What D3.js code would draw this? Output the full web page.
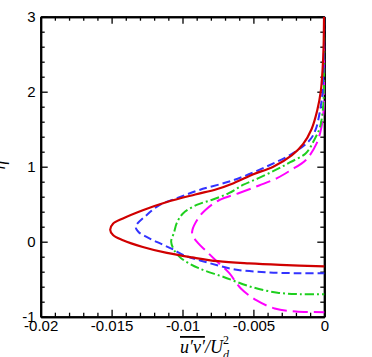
<!DOCTYPE html>
<html>
<head>
<meta charset="utf-8">
<script src="https://cdn.jsdelivr.net/npm/d3@7"></script>
<style>
html,body{margin:0;padding:0;background:#fff;}
svg{display:block;}
</style>
</head>
<body>
<svg id="chart" width="372" height="357"></svg>
<script>
// ---- data (eta, u'v'/U^2) ----
const redEta = [3.0, 2.6, 2.3, 2.0, 1.75, 1.5, 1.3, 1.15, 1.0, 0.9, 0.78, 0.7, 0.63, 0.53, 0.42, 0.31, 0.24, 0.16, 0.09, 0.02, -0.07, -0.15, -0.21, -0.26, -0.29, -0.31, -0.33];
const redVal = [-0.00002, -0.00005, -0.00012, -0.00025, -0.0005, -0.0009, -0.0015, -0.0023, -0.0036, -0.0050, -0.0064, -0.0076, -0.0091, -0.0111, -0.0128, -0.0142, -0.0149, -0.0151, -0.0149, -0.0142, -0.0128, -0.0111, -0.0093, -0.0075, -0.0053, -0.0031, 0.0];

const blueEta = [3.0, 2.5, 2.0, 1.75, 1.5, 1.36, 1.18, 1.0, 0.82, 0.69, 0.58, 0.49, 0.36, 0.2, 0.13, 0.05, -0.03, -0.1, -0.18, -0.28, -0.37, -0.41, -0.42, -0.42];
const blueVal = [0.0, -0.00003, -0.00012, -0.0003, -0.0006, -0.001, -0.0022, -0.0041, -0.0064, -0.0088, -0.0104, -0.0116, -0.0125, -0.0133, -0.0131, -0.0124, -0.0115, -0.0107, -0.0099, -0.0082, -0.0063, -0.0040, -0.0017, 0.0];

const greenEta = [3.0, 2.4, 2.0, 1.76, 1.53, 1.36, 1.18, 1.06, 0.96, 0.85, 0.76, 0.65, 0.56, 0.49, 0.38, 0.25, 0.12, 0.0, -0.14, -0.22, -0.35, -0.47, -0.6, -0.68, -0.7, -0.7];
const greenVal = [0.0, 0.0, -0.00003, -0.0001, -0.0003, -0.0007, -0.0013, -0.0024, -0.0034, -0.0046, -0.0057, -0.0067, -0.0079, -0.0090, -0.00995, -0.0104, -0.0106, -0.0108, -0.0105, -0.0101, -0.0089, -0.0071, -0.0052, -0.0033, -0.0017, 0.0];

const magEta = [3.0, 2.0, 1.75, 1.53, 1.31, 1.09, 0.95, 0.85, 0.75, 0.65, 0.556, 0.42, 0.31, 0.156, 0.09, -0.02, -0.13, -0.24, -0.42, -0.62, -0.78, -0.89, -0.93, -0.94];
const magVal = [0.0, 0.0, -0.00005, -0.0002, -0.00054, -0.0013, -0.0024, -0.0033, -0.0046, -0.0060, -0.0074, -0.0084, -0.0089, -0.0093, -0.0093, -0.0089, -0.0083, -0.0077, -0.0067, -0.0059, -0.0048, -0.0035, -0.0020, 0.0];

const xMajorTicks = [-0.02, -0.015, -0.01, -0.005, 0];
const xTickLabels = ["-0.02", "-0.015", "-0.01", "-0.005", "0"];
const yMajorTicks = [-1, 0, 1, 2, 3];
const yTickLabels = ["-1", "0", "1", "2", "3"];

// ---- layout ----
const svg = d3.select("#chart");
const L = 40.7, R = 324.3, T = 16.7, B = 316.7;
const x = d3.scaleLinear().domain([-0.02, 0]).range([L, R]);
const y = d3.scaleLinear().domain([-1, 3]).range([B, T]);

const xMinor = d3.range(-0.02, 0.0001, 0.001).filter(v => !xMajorTicks.some(m => Math.abs(m - v) < 1e-9));
const yMinor = d3.range(-1, 3.0001, 0.2).filter(v => !yMajorTicks.some(m => Math.abs(m - v) < 1e-9));

const tickFont = "'Liberation Sans', Arial, Helvetica, sans-serif";
const MAJ = 7, MIN = 4;

function styleAxis(g) {
  g.selectAll("path.domain").attr("stroke", "#000").attr("stroke-width", 2);
  g.selectAll(".tick line").attr("stroke", "#000").attr("stroke-width", 1.3);
  g.selectAll(".tick text").attr("fill", "#000").style("font-family", tickFont).style("font-size", "15px");
}

// bottom
svg.append("g").attr("transform", `translate(0,${B})`)
  .call(d3.axisBottom(x).tickValues(xMinor).tickSizeInner(-MIN).tickSizeOuter(0).tickFormat(""))
  .call(styleAxis);
svg.append("g").attr("transform", `translate(0,${B})`)
  .call(d3.axisBottom(x).tickValues(xMajorTicks).tickSizeInner(-MAJ).tickSizeOuter(0).tickPadding(4)
    .tickFormat((d, i) => xTickLabels[i]))
  .call(styleAxis);
// top
svg.append("g").attr("transform", `translate(0,${T})`)
  .call(d3.axisTop(x).tickValues(xMinor).tickSizeInner(-MIN).tickSizeOuter(0).tickFormat(""))
  .call(styleAxis);
svg.append("g").attr("transform", `translate(0,${T})`)
  .call(d3.axisTop(x).tickValues(xMajorTicks).tickSizeInner(-MAJ).tickSizeOuter(0).tickFormat(""))
  .call(styleAxis);
// left
svg.append("g").attr("transform", `translate(${L},0)`)
  .call(d3.axisLeft(y).tickValues(yMinor).tickSizeInner(-MIN).tickSizeOuter(0).tickFormat(""))
  .call(styleAxis);
svg.append("g").attr("transform", `translate(${L},0)`)
  .call(d3.axisLeft(y).tickValues(yMajorTicks).tickSizeInner(-MAJ).tickSizeOuter(0).tickPadding(5)
    .tickFormat((d, i) => yTickLabels[i]))
  .call(styleAxis);
// right
svg.append("g").attr("transform", `translate(${R},0)`)
  .call(d3.axisRight(y).tickValues(yMinor).tickSizeInner(-MIN).tickSizeOuter(0).tickFormat(""))
  .call(styleAxis);
svg.append("g").attr("transform", `translate(${R},0)`)
  .call(d3.axisRight(y).tickValues(yMajorTicks).tickSizeInner(-MAJ).tickSizeOuter(0).tickFormat(""))
  .call(styleAxis);

// ---- curves ----
svg.append("clipPath").attr("id", "clip").append("rect")
  .attr("x", L).attr("y", T).attr("width", R - L + 1).attr("height", B - T);

const line = d3.line().x(d => x(d[1])).y(d => y(d[0])).curve(d3.curveCatmullRom.alpha(0.5));
const series = [
  {eta: magEta, val: magVal, color: "#ff00ff", dash: "15,6", w: 2},
  {eta: greenEta, val: greenVal, color: "#1ecf1e", dash: "9,3,2,3", w: 2},
  {eta: blueEta, val: blueVal, color: "#3333ff", dash: "8,4", w: 2},
  {eta: redEta, val: redVal, color: "#d00000", dash: null, w: 2.2}
];
const cg = svg.append("g").attr("clip-path", "url(#clip)");
series.forEach(s => {
  cg.append("path")
    .datum(s.eta.map((e, i) => [e, s.val[i]]))
    .attr("d", line)
    .attr("fill", "none")
    .attr("stroke", s.color)
    .attr("stroke-width", s.w)
    .attr("stroke-dasharray", s.dash);
});

// ---- axis titles ----
const title = svg.append("text")
  .attr("x", 180).attr("y", 353)
  .style("font-family", "'Liberation Serif', 'Times New Roman', serif")
  .style("font-size", "18px")
  .style("font-style", "italic")
  .attr("fill", "#000");
title.append("tspan").attr("text-decoration", "overline").style("text-decoration", "overline").text("u\u2032v\u2032");
title.append("tspan").text("/U");
title.append("tspan").attr("dy", -9).style("font-size", "12px").style("font-style", "normal").text("2");
title.append("tspan").attr("dx", -6).attr("dy", 15).style("font-size", "12px").text("d");

svg.append("text")
  .attr("transform", "translate(5,165) rotate(-90)")
  .attr("text-anchor", "middle")
  .style("font-family", "'Liberation Serif', 'Times New Roman', serif")
  .style("font-size", "18px")
  .style("font-style", "italic")
  .attr("fill", "#000")
  .text("\u03b7");
</script>
</body>
</html>
